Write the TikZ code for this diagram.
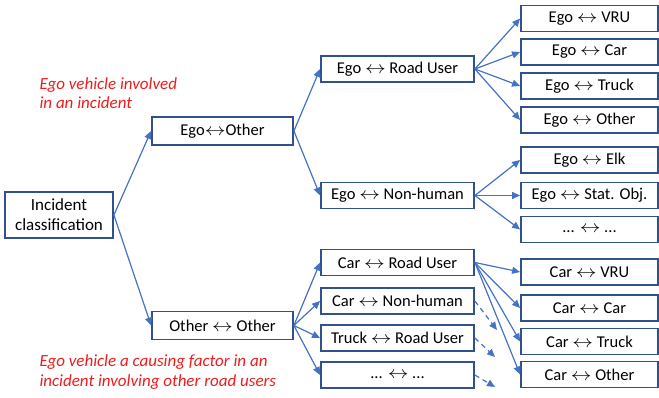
\documentclass[tikz,border=0pt]{standalone}
\usepackage{fontspec}
\usepackage{graphicx}
\setmainfont{Carlito}
\usetikzlibrary{arrows.meta}
\definecolor{boxcol}{HTML}{2F528F}
\definecolor{arrcol}{HTML}{4472C4}
\definecolor{notecol}{HTML}{EE1C1C}
\newcommand{\lr}{\scalebox{1.2}[1]{$\leftrightarrow$}}

\begin{document}
\begin{tikzpicture}[x=1pt,y=-1pt,>={Triangle[length=8pt,width=7pt]},
  box/.style={draw=boxcol,line width=1.8pt,inner sep=0pt,font=\fontsize{16.5}{18}\selectfont},
  catbox/.style={box,minimum width=141pt,minimum height=28pt},
  midbox/.style={box,minimum width=153pt,minimum height=26pt},
  leafbox/.style={box,minimum width=137pt,minimum height=26pt},
  link/.style={->,arrcol,line width=1.2pt},
  note/.style={notecol,align=left,anchor=west}]
\useasboundingbox (0,0) rectangle (659,397);
% root and first split
\node[box,minimum width=108pt,minimum height=46pt,align=center,font=\fontsize{17}{20}\selectfont] (root) at (59,215) {Incident\\classification};
\node[catbox] (egoother) at (222.5,131) {Ego\lr Other};
\node[catbox] (otherother) at (222.5,325.5) {Other \lr{} Other};
% ego side
\node[midbox] (egoroad) at (397.5,69) {Ego \lr{} Road User};
\node[midbox] (egonon) at (397.5,195.5) {Ego \lr{} Non-human};
\node[leafbox] (egovru) at (589.5,18.5) {Ego \lr{} VRU};
\node[leafbox] (egocar) at (589.5,52) {Ego \lr{} Car};
\node[leafbox] (egotruck) at (589.5,86) {Ego \lr{} Truck};
\node[leafbox] (egooth) at (589.5,120) {Ego \lr{} Other};
\node[leafbox] (egoelk) at (589.5,160) {Ego \lr{} Elk};
\node[leafbox] (egostat) at (589.5,195.5) {Ego \lr{} Stat. Obj.};
\node[leafbox] (egodots) at (589.5,229.5) {... \lr{} ...};
% other side
\node[midbox] (carroad) at (397.5,262.5) {Car \lr{} Road User};
\node[midbox] (carnon) at (397.5,301) {Car \lr{} Non-human};
\node[midbox] (truckroad) at (397.5,338) {Truck \lr{} Road User};
\node[midbox] (otherdots) at (397.5,375) {... \lr{} ...};
\node[leafbox] (carvru) at (589.5,272) {Car \lr{} VRU};
\node[leafbox] (carcar) at (589.5,308) {Car \lr{} Car};
\node[leafbox] (cartruck) at (589.5,341.5) {Car \lr{} Truck};
\node[leafbox] (caroth) at (589.5,374.5) {Car \lr{} Other};
% notes
\node[note,font=\fontsize{17}{19}\selectfont\itshape] (noteego) at (36,93.5) {Ego vehicle involved\\in an incident};
\node[note,font=\fontsize{17}{20}\selectfont\itshape] (notecause) at (36,372) {Ego vehicle a causing factor in an\\incident involving other road users};
% open ends of the dashed arrows
\coordinate (endnon) at (497,330);
\coordinate (endtruck) at (495,357);
\coordinate (enddots) at (495,387);
% connectors
\foreach \a/\b in {root/egoother, root/otherother, egoother/egoroad, egoother/egonon,
  otherother/carroad, otherother/carnon, otherother/truckroad, otherother/otherdots,
  egoroad/egovru, egoroad/egocar, egoroad/egotruck, egoroad/egooth,
  egonon/egoelk, egonon/egostat, egonon/egodots,
  carroad/carvru, carroad/carcar, carroad/cartruck, carroad/caroth}
  \draw[link] (\a.east) -- (\b.west);
\foreach \a/\b in {carnon/endnon, truckroad/endtruck, otherdots/enddots}
  \draw[link,dashed,dash pattern=on 5pt off 4pt] (\a.east) -- (\b);
\end{tikzpicture}
\end{document}
